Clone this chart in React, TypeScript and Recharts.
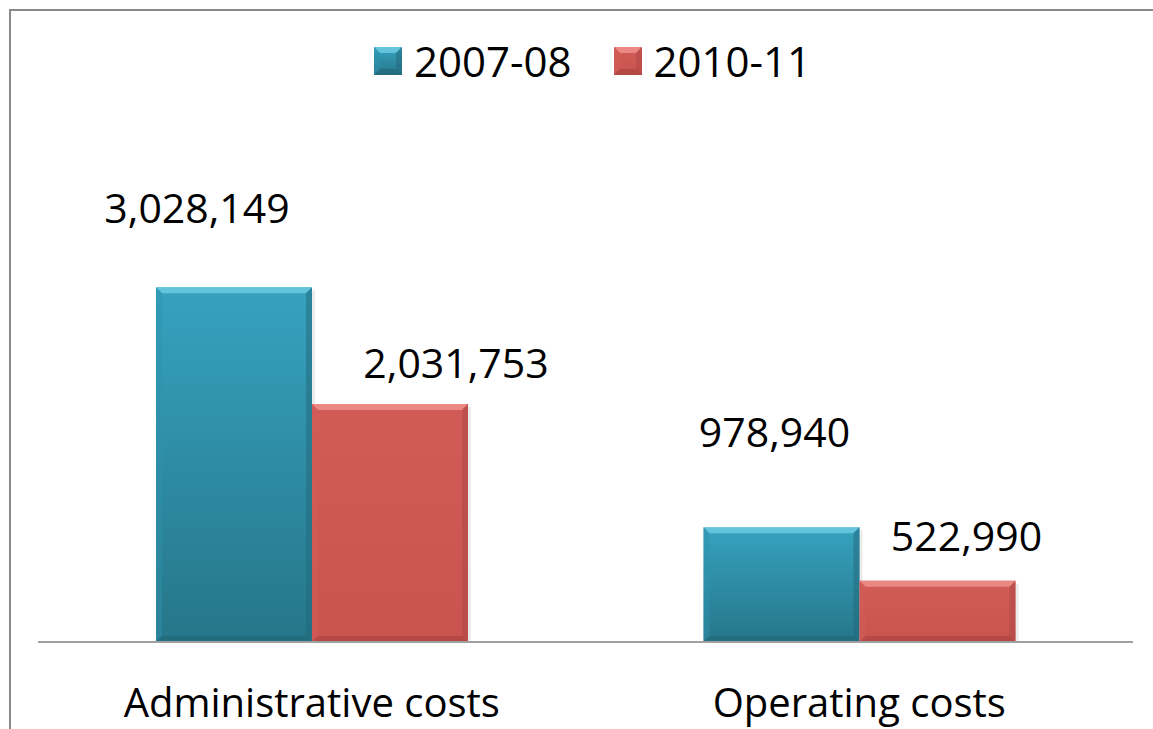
import React from 'react';
import { BarChart, Bar, XAxis, YAxis, Legend, LabelList } from 'recharts';

const categories = ['Administrative costs', 'Operating costs'];
const series0708 = [3028149, 978940];
const series1011 = [2031753, 522990];
const seriesNames = ['2007-08', '2010-11'];

const chartData = categories.map((name, i) => ({
  name,
  y0708: series0708[i],
  y1011: series1011[i],
}));

const FONT = '"Open Sans", "Noto Sans", sans-serif';

// per-label nudges (Excel labels were dragged by hand)
const NUDGE_0708 = [{ dx: -37, dy: 64 }, { dx: -7, dy: 80 }];
const NUDGE_1011 = [{ dx: 66, dy: 26 }, { dx: 29, dy: 30 }];

const PALETTE = {
  blue: { top: '#36a2bf', bottom: '#267689', hi: '#6fcde2', lo: '#1f6475', left: '#2f93ad', right: '#22687a' },
  red: { top: '#d05b57', bottom: '#c8534f', hi: '#f39490', lo: '#a3403d', left: '#d25d59', right: '#ad4643' },
};

type Pal = typeof PALETTE.blue;

const BevelRect = ({ x, y, w, h, pal, id, shadow }: { x: number; y: number; w: number; h: number; pal: Pal; id: string; shadow?: boolean }) => {
  const b = Math.min(6, w / 4, h / 4);
  return (
    <g>
      <defs>
        <linearGradient id={id} x1="0" y1="0" x2="0" y2="1">
          <stop offset="0%" stopColor={pal.top} />
          <stop offset="100%" stopColor={pal.bottom} />
        </linearGradient>
      </defs>
      {shadow && <rect x={x + 3} y={y + 3} width={w} height={h - 3} fill="rgba(0,0,0,0.08)" />}
      <rect x={x} y={y} width={w} height={h} fill={`url(#${id})`} />
      <polygon points={`${x},${y} ${x + w},${y} ${x + w - b},${y + b} ${x + b},${y + b}`} fill={pal.hi} opacity={0.8} />
      <polygon points={`${x},${y} ${x + b},${y + b} ${x + b},${y + h - b} ${x},${y + h}`} fill={pal.left} opacity={0.45} />
      <polygon points={`${x + w},${y} ${x + w},${y + h} ${x + w - b},${y + h - b} ${x + w - b},${y + b}`} fill={pal.right} opacity={0.5} />
      <polygon points={`${x},${y + h} ${x + w},${y + h} ${x + w - b},${y + h - b} ${x + b},${y + h - b}`} fill={pal.lo} opacity={0.55} />
    </g>
  );
};

const makeShape = (pal: Pal, key: string) => (props: any) => {
  const { x, y, width, height, index } = props;
  if (!height || height <= 0) return <g />;
  return <BevelRect x={x} y={y} w={width} h={height} pal={pal} id={`g-${key}-${index}`} shadow />;
};

const makeLabel = (nudges: { dx: number; dy: number }[]) => (props: any) => {
  const { x, y, width, value, index } = props;
  const n = nudges[index] || { dx: 0, dy: 20 };
  return (
    <text x={x + width / 2 + n.dx} y={y - n.dy} textAnchor="middle" fontFamily={FONT} fontSize={41} fill="#000">
      {Number(value).toLocaleString('en-US')}
    </text>
  );
};

const CategoryTick = (props: any) => {
  const { x, payload } = props;
  return (
    <text x={x} y={717} textAnchor="middle" fontFamily={FONT} fontSize={40} fill="#000">
      {payload.value}
    </text>
  );
};

const LegendContent = () => {
  const items = [
    { name: seriesNames[0], pal: PALETTE.blue },
    { name: seriesNames[1], pal: PALETTE.red },
  ];
  return (
    <div style={{ display: 'flex', justifyContent: 'center', alignItems: 'center', paddingLeft: 32, fontFamily: FONT, fontSize: 42, lineHeight: 1 }}>
      {items.map((it, i) => (
        <div key={it.name} style={{ display: 'flex', alignItems: 'center', marginLeft: i === 0 ? 0 : 42 }}>
          <svg width={28} height={28} style={{ marginRight: 12 }}>
            <BevelRect x={0} y={0} w={28} h={28} pal={it.pal} id={`leg-${i}`} />
          </svg>
          <span style={{ color: '#000' }}>{it.name}</span>
        </div>
      ))}
    </div>
  );
};

export default function App() {
  return (
    <div style={{ position: 'fixed', left: 0, top: 0, width: 1153, height: 729, overflow: 'hidden', background: '#fff' }}>
      <div
        style={{
          position: 'absolute',
          left: 9,
          top: 9,
          width: 1300,
          height: 900,
          borderTop: '2px solid #8a8a8a',
          borderLeft: '2px solid #8a8a8a',
        }}
      />
      <div style={{ position: 'absolute', left: 0, top: 0 }}>
        <BarChart
          width={1153}
          height={729}
          data={chartData}
          margin={{ top: 232, right: 20, bottom: 0, left: 38 }}
          barGap={0}
        >
          <XAxis
            dataKey="name"
            height={87}
            tickLine={false}
            axisLine={{ stroke: '#a0a0a0', strokeWidth: 2 }}
            tick={<CategoryTick />}
            interval={0}
          />
          <YAxis hide domain={[0, 3500000]} />
          <Legend
            verticalAlign="middle"
            align="center"
            content={<LegendContent />}
            wrapperStyle={{ top: 40, left: 0, width: 1153 }}
          />
          <Bar dataKey="y0708" name={seriesNames[0]} barSize={156} isAnimationActive={false} shape={makeShape(PALETTE.blue, 'a')}>
            <LabelList dataKey="y0708" content={makeLabel(NUDGE_0708)} />
          </Bar>
          <Bar dataKey="y1011" name={seriesNames[1]} barSize={156} isAnimationActive={false} shape={makeShape(PALETTE.red, 'b')}>
            <LabelList dataKey="y1011" content={makeLabel(NUDGE_1011)} />
          </Bar>
        </BarChart>
      </div>
    </div>
  );
}
